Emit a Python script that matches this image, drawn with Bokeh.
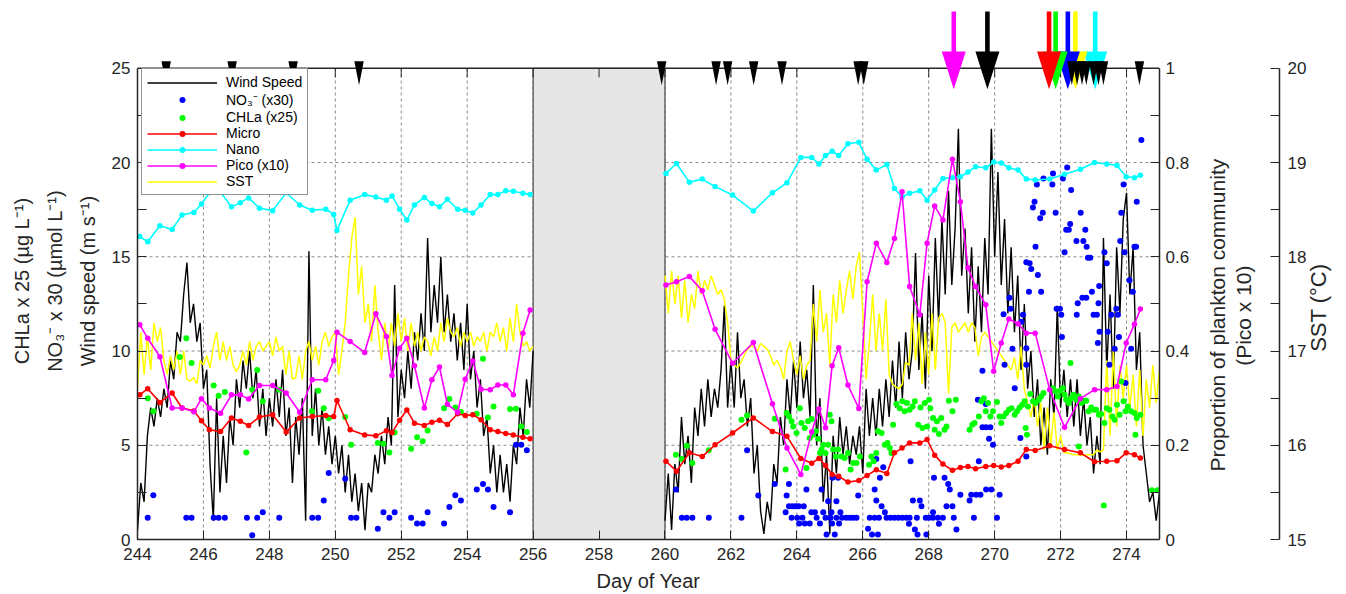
import numpy as np
from bokeh.plotting import figure
from bokeh.models import (Range1d, LinearAxis, FixedTicker, NumeralTickFormatter,
                          Legend, LegendItem)
from bokeh.embed import file_html
from bokeh.resources import INLINE

FONT = "Liberation Sans"
INK = "#262626"

# ---------------- axes / ticks ----------------
day_lim = [244, 275]
day_ticks = list(range(244, 275, 2))
left_ticks = [0, 5, 10, 15, 20, 25]
left_minor = [2.5, 7.5, 12.5, 17.5, 22.5]
prop_ticks = [0, 0.2, 0.4, 0.6, 0.8, 1.0]
prop_minor = [0.1, 0.3, 0.5, 0.7, 0.9]
sst_ticks = [15, 16, 17, 18, 19, 20]
sst_minor = [15.5, 16.5, 17.5, 18.5, 19.5]
left_top = 25
gap_days = [256, 260]

# ---------------- wind speed (m/s), sampled every 0.1 day ----------------
wind_t0_a = 244.0
wind_a = [0.5, 3.0, 2.0, 5.5, 7.0, 6.0, 7.5, 6.5, 8.0, 7.0,
          9.5, 8.5, 11.0, 10.5, 13.0, 14.7, 11.5, 12.5, 10.5, 11.5,
          8.0, 9.0, 4.0, 1.0, 7.5, 2.5, 5.5, 3.0, 6.5, 5.0,
          8.5, 7.0, 9.5, 8.0, 10.0, 7.5, 9.0, 6.0, 8.0, 5.5,
          7.5, 6.0, 8.5, 6.5, 9.0, 5.5, 7.0, 3.0, 6.5, 4.5,
          7.5, 1.0, 15.3, 5.5, 8.0, 5.0, 7.0, 4.5, 6.0, 4.0,
          5.5, 3.5, 5.0, 2.5, 4.5, 2.0, 3.5, 1.5, 3.0, 0.5,
          3.0, 2.5, 4.5, 3.5, 5.5, 4.0, 6.5, 5.0, 13.5, 6.5,
          9.0, 7.5, 10.0, 8.0, 11.0, 9.5, 12.0, 10.0, 16.0, 11.0,
          13.5, 11.5, 15.0, 11.0, 13.0, 10.5, 12.0, 9.5, 11.5, 9.0,
          12.5, 8.5, 10.0, 7.0, 8.5, 5.5, 6.5, 3.5, 5.0, 2.5,
          4.5, 2.5, 4.0, 2.0, 5.0, 4.0, 7.0, 5.5, 8.5, 7.0,
          10.0]
wind_t0_b = 260.0
wind_b = [1.0, 3.5, 0.5, 4.0, 2.5, 6.5, 4.0, 5.5, 3.0, 7.0,
          5.5, 8.0, 6.0, 8.5, 6.5, 8.0, 7.0, 9.0, 12.4, 7.0,
          9.5, 7.0, 11.0, 7.5, 8.5, 6.0, 7.5, 3.5, 5.0, 1.5,
          0.3, 2.0, 1.0, 4.0, 3.0, 6.5, 5.0, 8.5, 6.5, 9.5,
          7.0, 10.5, 7.5, 9.0, 6.5, 13.5, 5.0, 7.5, 2.0, 4.5,
          0.3, 5.5, 3.5, 6.5, 4.5, 6.0, 4.0, 5.5, 4.5, 6.0,
          3.5, 8.0, 5.5, 7.5, 5.5, 8.0, 6.0, 8.5, 6.5, 9.5,
          7.0, 10.5, 7.5, 11.0, 8.5, 10.0, 15.2, 9.0, 12.0, 8.0,
          14.0, 10.0, 16.0, 11.5, 17.0, 13.0, 18.5, 13.5, 16.5, 21.8,
          14.0, 16.5, 12.0, 15.5, 10.5, 14.5, 11.0, 16.0, 13.0, 21.8,
          15.0, 19.5, 13.5, 17.0, 12.0, 15.5, 11.0, 14.0, 9.0, 12.5,
          8.0, 10.0, 6.5, 8.5, 5.0, 7.0, 4.5, 8.5, 6.5, 12.4,
          7.0, 9.0, 6.5, 8.5, 6.0, 8.5, 5.5, 7.5, 5.0, 6.5,
          3.5, 5.5, 4.0, 16.0, 9.0, 13.0, 8.0, 15.5, 12.0, 17.0,
          18.4, 13.0, 15.5, 9.0, 11.0, 5.0, 3.5, 2.0, 2.5, 1.0,
          2.5]

# ---------------- SST (deg C), sampled every 0.1 day ----------------
sst_t0_a = 244.0
sst_a = [16.6, 17.2, 16.75, 17.15, 16.8, 17.3, 17.1, 17.25, 16.9, 16.75,
         16.95, 16.8, 17.0, 16.75, 17.0, 16.7, 16.68, 16.72, 16.65, 16.9,
         16.85, 16.95, 16.82, 17.05, 17.2, 16.9, 17.1, 16.9, 17.05, 16.85,
         16.78, 16.85, 17.0, 16.85, 17.1, 16.9, 17.05, 17.1, 17.0, 17.05,
         17.1, 16.95, 17.15, 17.0, 17.05, 16.75, 17.0, 16.7, 16.72, 16.95,
         16.7, 17.0, 17.1, 16.9, 17.05, 16.85, 17.1, 17.2, 17.05, 17.15,
         17.2, 16.75, 17.0, 17.3, 17.8, 18.2, 18.42, 17.6, 17.9, 17.3,
         17.5, 17.1, 17.7, 17.2, 16.9, 17.3, 17.0, 17.3, 17.05, 17.4,
         17.1, 17.35, 17.0, 17.3, 17.05, 17.2, 17.0, 17.15, 17.1, 16.95,
         17.15, 17.0, 17.3, 17.1, 17.35, 17.2, 17.15, 17.25, 17.05, 17.2,
         17.1, 17.2, 17.05, 17.15, 17.1, 17.2, 17.0, 17.2, 17.15, 17.3,
         17.1, 17.25, 17.0, 17.35, 17.1, 17.5, 17.2, 17.05, 17.1, 17.0,
         17.05]
sst_t0_b = 260.0
sst_b = [17.8, 17.4, 17.85, 17.5, 17.8, 17.35, 17.75, 17.3, 17.6, 17.45,
         17.85, 17.6, 17.75, 17.65, 17.8, 17.7, 17.6, 17.65, 17.55, 17.3,
         16.9, 16.85, 16.82, 16.88, 16.95, 17.02, 17.05, 17.05, 17.0, 17.08,
         17.05, 17.02, 16.95, 16.85, 16.9, 16.83, 16.7, 17.0, 17.1, 16.9,
         16.75, 16.95, 16.7, 16.85, 16.9, 17.5, 17.1, 17.65, 17.2, 17.4,
         16.85, 17.6, 17.3, 17.75, 17.4, 17.65, 17.85, 17.55, 17.9, 18.05,
         17.4, 16.7, 17.1, 17.6, 17.0, 17.4, 17.0, 17.55, 16.75, 16.65,
         16.62, 16.6, 16.65, 16.88, 16.85, 17.4, 16.9, 17.3, 16.65, 17.2,
         16.75, 17.4, 16.8, 17.35, 17.4, 17.3, 16.55, 17.25, 17.3, 17.2,
         17.25, 17.3, 17.2, 17.3, 17.25, 16.95, 17.15, 17.2, 17.15, 17.1,
         17.05, 17.0, 16.95, 16.9, 16.85, 16.8, 16.93, 16.7, 17.05, 16.6,
         16.45, 16.3, 16.5, 16.2, 16.45, 15.95, 16.4, 16.0, 16.35, 15.95,
         16.1, 15.92, 15.92, 15.91, 15.9, 15.9, 15.9, 15.89, 15.9, 15.9,
         15.9, 15.95, 15.93, 15.95, 16.9, 16.1, 17.0, 16.2, 16.85, 16.5,
         16.85, 16.4, 16.75, 16.2, 16.8, 16.1, 16.7, 16.4, 16.85, 16.45,
         16.8]

# ---------------- plankton community proportions ----------------
plank_day_a = [244.07, 244.31, 244.68, 245.05, 245.35, 245.71, 245.94, 246.18, 246.52, 246.85,
               247.12, 247.37, 247.70, 248.10, 248.51, 248.92, 249.30, 249.71, 249.95, 250.05,
               250.45, 250.89, 251.23, 251.55, 251.72, 251.95, 252.17, 252.40, 252.70, 252.93,
               253.16, 253.40, 253.71, 253.94, 254.17, 254.42, 254.70, 254.93, 255.17, 255.40,
               255.69, 255.91]
micro_a = [0.307, 0.320, 0.291, 0.311, 0.279, 0.273, 0.252, 0.233, 0.229, 0.258,
           0.251, 0.242, 0.260, 0.265, 0.228, 0.258, 0.261, 0.263, 0.261, 0.295,
           0.233, 0.222, 0.220, 0.231, 0.227, 0.253, 0.275, 0.247, 0.242, 0.249,
           0.253, 0.244, 0.267, 0.263, 0.265, 0.254, 0.233, 0.229, 0.225, 0.222,
           0.217, 0.214]
nano_a = [0.643, 0.632, 0.666, 0.658, 0.689, 0.694, 0.712, 0.736, 0.737, 0.706,
          0.715, 0.725, 0.703, 0.698, 0.736, 0.710, 0.699, 0.701, 0.690, 0.656,
          0.720, 0.732, 0.727, 0.720, 0.729, 0.701, 0.678, 0.710, 0.726, 0.713,
          0.706, 0.722, 0.701, 0.699, 0.693, 0.710, 0.732, 0.732, 0.740, 0.739,
          0.735, 0.732]
pico_a = [0.456, 0.427, 0.388, 0.279, 0.279, 0.271, 0.299, 0.279, 0.268, 0.307,
          0.307, 0.298, 0.327, 0.327, 0.311, 0.270, 0.339, 0.339, 0.380, 0.440,
          0.420, 0.397, 0.479, 0.431, 0.348, 0.406, 0.427, 0.369, 0.279, 0.339,
          0.366, 0.287, 0.270, 0.340, 0.379, 0.319, 0.318, 0.328, 0.328, 0.307,
          0.438, 0.487]

plank_day_b = [260.03, 260.35, 260.74, 261.13, 261.52, 262.05, 262.68, 263.26, 263.70, 264.12,
               264.45, 264.67, 264.87, 265.07, 265.27, 265.55, 265.88, 266.13, 266.41, 266.73,
               266.96, 267.19, 267.42, 267.73, 267.95, 268.18, 268.43, 268.72, 268.96, 269.19,
               269.42, 269.73, 269.97, 270.20, 270.43, 270.71, 270.96, 271.23, 271.67, 272.12,
               272.60, 273.03, 273.40, 273.71, 273.99, 274.24, 274.42]
micro_b = [0.166, 0.145, 0.184, 0.176, 0.201, 0.226, 0.258, 0.229, 0.219, 0.172,
           0.162, 0.172, 0.157, 0.138, 0.134, 0.122, 0.125, 0.136, 0.148, 0.140,
           0.184, 0.194, 0.205, 0.205, 0.212, 0.179, 0.160, 0.147, 0.153, 0.155,
           0.150, 0.155, 0.157, 0.154, 0.157, 0.166, 0.191, 0.189, 0.199, 0.191,
           0.184, 0.165, 0.166, 0.167, 0.184, 0.180, 0.173]
nano_b = [0.777, 0.798, 0.758, 0.765, 0.749, 0.731, 0.697, 0.736, 0.757, 0.811,
          0.811, 0.797, 0.815, 0.824, 0.815, 0.840, 0.843, 0.807, 0.784, 0.796,
          0.745, 0.727, 0.735, 0.740, 0.720, 0.742, 0.766, 0.768, 0.770, 0.780,
          0.791, 0.789, 0.801, 0.799, 0.789, 0.784, 0.765, 0.763, 0.765, 0.775,
          0.786, 0.800, 0.797, 0.794, 0.770, 0.768, 0.773]
pico_b = [0.540, 0.547, 0.558, 0.528, 0.446, 0.374, 0.418, 0.288, 0.194, 0.138,
          0.228, 0.277, 0.237, 0.369, 0.407, 0.328, 0.278, 0.547, 0.629, 0.588,
          0.639, 0.738, 0.537, 0.477, 0.629, 0.708, 0.678, 0.807, 0.717, 0.577,
          0.537, 0.498, 0.357, 0.417, 0.468, 0.458, 0.438, 0.438, 0.318, 0.238,
          0.299, 0.318, 0.318, 0.325, 0.417, 0.457, 0.489]

# ---------------- NO3 (x30) ----------------
no3_day = [244.31, 244.48, 245.48, 245.64, 246.31, 246.46, 246.65, 247.32, 247.48, 247.63,
           247.80, 248.30, 249.30, 249.48, 249.65, 249.80, 250.30, 250.48, 250.64, 251.29,
           251.46, 251.64, 251.80, 252.30, 252.48, 252.65, 252.80, 253.30, 253.46, 253.64,
           253.81, 254.29, 254.48, 254.63, 254.80, 255.30, 255.48, 255.64, 255.81,
           260.33, 260.51, 260.66, 260.83, 261.33, 262.32, 262.49, 262.83, 263.33, 263.66,
           263.69, 263.76, 263.76, 263.84, 263.86, 263.96, 264.01, 264.06, 264.07, 264.17,
           264.21, 264.24, 264.29, 264.39, 264.44, 264.55, 264.60, 264.70, 264.75, 264.80,
           264.87, 264.90, 264.95, 265.02, 265.05, 265.07, 265.08, 265.15, 265.20, 265.20,
           265.25, 265.28, 265.32, 265.37, 265.50, 265.61, 265.71, 265.81, 265.86, 266.16,
           266.21, 266.28, 266.36, 266.36, 266.41, 266.41, 266.46, 266.49, 266.52, 266.57,
           266.62, 266.67, 266.72, 266.84, 266.96, 267.08, 267.20, 267.32, 267.40, 267.42,
           267.45, 267.52, 267.58, 267.64, 267.66, 267.73, 267.78, 267.91, 267.93, 268.01,
           268.13, 268.13, 268.16, 268.28, 268.31, 268.43, 268.48, 268.54, 268.59, 268.64,
           268.72, 268.76, 268.84, 268.96, 269.24, 269.29, 269.37, 269.44, 269.49, 269.52,
           269.57, 269.63, 269.63, 269.73, 269.74, 269.74, 269.83, 269.87, 269.90, 269.95,
           270.07, 270.15, 270.27, 270.30, 270.45, 270.48, 270.54, 270.61, 270.78, 270.81,
           270.86, 270.96, 270.96, 270.96, 270.96, 271.04, 271.06, 271.11, 271.16, 271.21,
           271.24, 271.28, 271.31, 271.38, 271.41, 271.46, 271.48, 271.75, 271.77, 271.85,
           271.88, 271.98, 272.02, 272.04, 272.07, 272.12, 272.17, 272.20, 272.25, 272.29,
           272.32, 272.48, 272.49, 272.52, 272.61, 272.66, 272.69, 272.75, 272.78, 272.79,
           272.83, 272.90, 272.95, 273.00, 273.10, 273.13, 273.15, 273.17, 273.18, 273.33,
           273.40, 273.43, 273.48, 273.54, 273.64, 273.69, 273.74, 273.77, 273.81, 273.84,
           273.91, 273.94, 273.97, 274.09, 274.14, 274.19, 274.24, 274.29, 274.31, 274.45]
no3_val = [1.15, 2.35, 1.15, 1.15, 1.15, 1.15, 1.15, 1.15, 0.23, 1.15,
           1.45, 1.15, 1.15, 1.15, 2.07, 3.53, 3.23, 1.15, 1.15, 0.57,
           1.45, 1.15, 1.45, 1.15, 0.85, 0.85, 1.45, 0.85, 1.73, 2.35,
           2.07, 2.65, 2.95, 2.65, 1.73, 1.45, 5.03, 5.03, 4.73,
           2.65, 1.15, 1.15, 1.15, 1.15, 1.15, 4.73, 2.33, 2.95, 1.45,
           2.33, 2.95, 1.76, 1.15, 1.76, 1.76, 1.15, 1.76, 0.85, 1.15,
           1.76, 0.85, 2.65, 0.85, 1.45, 1.45, 1.15, 0.85, 2.65, 1.45,
           1.15, 0.26, 2.03, 1.15, 1.45, 0.85, 3.27, 0.26, 1.15, 2.03,
           3.27, 0.85, 1.45, 1.15, 1.15, 1.15, 1.15, 1.15, 2.33, 0.57,
           1.15, 0.26, 1.15, 2.65, 2.07, 4.27, 0.26, 1.15, 3.27, 1.76,
           3.83, 1.45, 1.15, 1.15, 1.15, 1.15, 1.15, 1.15, 0.83, 1.15,
           4.15, 2.07, 0.53, 1.15, 0.26, 2.07, 1.76, 1.15, 0.26, 1.15,
           1.15, 1.45, 3.27, 1.15, 0.83, 1.15, 3.27, 1.76, 2.95, 2.65,
           1.76, 1.15, 0.53, 2.38, 2.07, 2.38, 1.15, 2.38, 7.42, 4.15,
           2.38, 8.95, 5.95, 7.19, 5.95, 2.65, 5.35, 5.95, 2.65, 5.03,
           1.15, 2.38, 11.95, 9.27, 12.83, 12.24, 10.12, 8.03, 5.39, 11.56,
           11.92, 14.71, 10.15, 9.27, 4.41, 13.15, 14.66, 14.35, 17.62, 17.92,
           15.54, 18.84, 14.04, 17.04, 13.15, 17.34, 19.16, 18.84, 19.42, 17.34,
           12.24, 12.24, 11.92, 10.74, 19.16, 15.24, 16.44, 19.74, 16.44, 16.74,
           18.54, 15.84, 11.92, 12.54, 17.34, 12.83, 15.84, 16.44, 12.83, 15.54,
           14.95, 14.95, 13.15, 11.92, 11.92, 10.42, 12.54, 13.45, 11.03, 15.24,
           14.66, 11.03, 9.27, 11.92, 10.12, 12.24, 11.92, 10.74, 15.84, 17.34,
           18.84, 15.24, 8.30, 13.75, 10.12, 13.15, 15.54, 15.54, 17.92, 21.2]

# ---------------- CHLa (x25) ----------------
chl_day = [244.31, 244.48, 245.28, 245.48, 245.64, 246.31, 246.46, 246.65, 247.30, 247.48,
           247.63, 247.80, 248.30, 249.29, 249.48, 249.65, 249.80, 250.30, 250.48, 251.29,
           251.46, 251.64, 251.80, 252.30, 252.48, 252.65, 252.80, 253.30, 253.46, 253.64,
           253.81, 254.29, 254.48, 254.63, 254.80, 255.30, 255.48, 255.64, 255.81,
           260.33, 260.51, 260.66, 260.83, 261.33, 262.32, 262.49, 263.33, 263.66, 263.69,
           263.76, 263.84, 263.89, 263.99, 264.09, 264.14, 264.24, 264.29, 264.34, 264.39,
           264.45, 264.49, 264.58, 264.65, 264.70, 264.75, 264.80, 264.87, 264.95, 265.00,
           265.05, 265.10, 265.18, 265.25, 265.35, 265.45, 265.55, 265.63, 265.71, 265.81,
           265.91, 266.19, 266.26, 266.33, 266.41, 266.46, 266.57, 266.67, 266.75, 266.82,
           266.87, 266.92, 267.02, 267.12, 267.20, 267.27, 267.34, 267.42, 267.51, 267.58,
           267.68, 267.75, 267.81, 267.88, 267.95, 268.01, 268.05, 268.13, 268.18, 268.25,
           268.31, 268.38, 268.48, 268.54, 268.61, 268.72, 268.82, 269.24, 269.32, 269.39,
           269.52, 269.60, 269.67, 269.73, 269.80, 269.87, 269.95, 270.07, 270.15, 270.20,
           270.27, 270.35, 270.43, 270.51, 270.61, 270.68, 270.76, 270.84, 270.91, 270.94,
           270.98, 271.01, 271.08, 271.16, 271.24, 271.34, 271.41, 271.48, 271.77, 271.85,
           271.92, 271.99, 272.07, 272.12, 272.17, 272.25, 272.30, 272.32, 272.39, 272.48,
           272.55, 272.55, 272.63, 272.70, 272.78, 272.85, 272.93, 273.00, 273.08, 273.16,
           273.23, 273.31, 273.33, 273.40, 273.48, 273.57, 273.64, 273.71, 273.79, 273.84,
           273.91, 273.97, 274.04, 274.14, 274.24, 274.27, 274.31, 274.42, 274.77, 274.94]
chl_val = [7.50, 6.80, 9.68, 10.68, 9.36, 8.17, 7.63, 7.82, 4.62, 7.94,
           9.00, 7.33, 7.94, 6.80, 7.89, 6.97, 6.44, 6.50, 5.03, 5.12,
           5.08, 4.62, 5.68, 4.82, 5.42, 5.21, 5.79, 6.97, 7.45, 7.01,
           6.76, 6.67, 9.59, 6.48, 7.06, 6.92, 6.94, 6.00, 5.70,
           4.50, 4.27, 4.98, 4.06, 4.73, 6.36, 6.58, 6.41, 3.71, 6.71,
           6.53, 6.27, 6.00, 5.65, 6.97, 6.18, 5.92, 3.80, 6.27, 5.39,
           6.39, 5.56, 5.74, 5.35, 4.59, 4.77, 5.03, 4.59, 5.03, 6.62,
           6.27, 4.77, 4.41, 4.77, 4.41, 4.33, 4.59, 3.71, 4.06, 4.06,
           4.41, 3.97, 4.41, 4.15, 4.59, 5.74, 5.65, 5.03, 5.12, 4.86,
           4.59, 6.09, 7.19, 6.97, 7.33, 6.80, 7.24, 6.89, 7.06, 7.33,
           6.09, 7.01, 5.92, 7.24, 6.00, 7.42, 6.97, 6.45, 5.83, 6.27,
           5.60, 6.45, 5.83, 6.00, 7.36, 6.80, 7.42, 5.83, 6.09, 6.18,
           6.53, 7.33, 7.50, 6.80, 7.24, 6.53, 6.80, 7.29, 6.53, 6.18,
           6.53, 6.71, 6.89, 6.97, 6.62, 6.80, 7.01, 7.15, 7.33, 5.92,
           5.56, 7.06, 7.72, 7.33, 7.24, 7.42, 7.59, 7.77, 8.03, 7.86,
           7.59, 7.89, 8.03, 7.68, 7.42, 7.24, 9.36, 7.50, 7.68, 7.42,
           7.59, 4.94, 7.24, 7.33, 7.36, 6.80, 7.01, 6.89, 6.89, 6.62,
           6.66, 1.80, 6.18, 6.97, 6.89, 6.53, 6.36, 7.15, 6.62, 8.38,
           7.33, 6.80, 7.06, 6.80, 6.71, 5.56, 6.45, 6.62, 2.61, 2.61]

# ---------------- event markers above the plot ----------------
event_days = [244.87, 246.87, 248.72, 250.72, 259.90, 261.55, 261.90, 262.69, 263.55,
              265.86, 266.03, 272.34, 272.50, 272.65, 272.78, 273.00, 273.15, 273.30, 274.39]
arrow_days = [268.76, 269.78, 271.65, 271.85, 272.22, 272.45, 273.05]
arrow_colors = ["#ff00ff", "#000000", "#ff0000", "#00ff00", "#0000ff", "#ffff00", "#00ffff"]

# ---------------- texts ----------------
left_label_lines = ["CHLa x 25 (\u00b5g L\u207b\u00b9)",
                    "NO\u2083\u207b x 30 (\u00b5mol L\u207b\u00b9)",
                    "Wind speed (m s\u207b\u00b9)"]
right_label_lines = ["Proportion of plankton community", "(Pico x 10)"]
sst_label = "SST (\u00b0C)"
x_label = "Day of Year"

# ================= figure =================
W, H = 1346, 594
BL, BR, BT, BB = 137, 186, 0, 54
YTOP = 28.6
frame_w = W - BL - BR
frame_h = H - BT - BB
px_day = frame_w / (day_lim[1] - day_lim[0])
px_unit = frame_h / YTOP
px_prop = px_unit * left_top
NB = "\u00a0"   # trailing no-break spaces nudge the rotated left title along the axis

p = figure(width=W, height=H, output_backend="svg", toolbar_location=None,
           x_range=Range1d(day_lim[0], day_lim[1]), y_range=Range1d(0, YTOP),
           min_border_left=BL, min_border_right=BR, min_border_top=BT, min_border_bottom=BB,
           outline_line_color=None, background_fill_color="white")
p.extra_y_ranges = {"prop": Range1d(0, YTOP / left_top),
                    "sst": Range1d(sst_ticks[0], sst_ticks[0] + YTOP * (sst_ticks[-1] - sst_ticks[0]) / left_top)}
p.xgrid.visible = False
p.ygrid.visible = False

def style_axis(ax, standoff):
    ax.axis_line_color = INK
    ax.axis_line_width = 1.5
    ax.major_tick_line_color = INK
    ax.minor_tick_line_color = INK
    ax.major_tick_in = 9
    ax.major_tick_out = 0
    ax.minor_tick_in = 9
    ax.minor_tick_out = 0
    ax.major_label_text_font = FONT
    ax.major_label_text_font_size = "17px"
    ax.major_label_text_color = INK
    ax.major_label_standoff = standoff
    ax.axis_label_text_font = FONT
    ax.axis_label_text_font_style = "normal"
    ax.axis_label_text_color = INK
    ax.axis_label_text_font_size = "20px"

def title_axis(text, start_px, standoff, size):
    """An axis with no line/ticks whose single rotated tick label carries a title.
    start_px: canvas y (px) where the upward-reading text begins."""
    tick = round((frame_h - start_px) / px_prop, 4)
    ax = LinearAxis(y_range_name="prop", ticker=FixedTicker(ticks=[tick]),
                    major_label_overrides={tick: text})
    style_axis(ax, standoff)
    ax.axis_line_color = None
    ax.major_tick_line_color = None
    ax.minor_tick_line_color = None
    ax.major_tick_in = 0
    ax.minor_tick_in = 0
    ax.major_label_text_font_size = size
    ax.major_label_orientation = np.pi / 2
    return ax

xa = p.xaxis[0]
xa.ticker = FixedTicker(ticks=day_ticks)
style_axis(xa, 8)
xa.axis_label = x_label
xa.axis_label_standoff = 7
xa.axis_label_text_line_height = 1.0

ya = p.yaxis[0]
ya.ticker = FixedTicker(ticks=left_ticks, minor_ticks=left_minor)
ya.bounds = (left_ticks[0], left_ticks[-1])
style_axis(ya, 7)

# carrier axis for the three-line left title (no line, no ticks)
ya_title = LinearAxis(ticker=FixedTicker(ticks=[]))
style_axis(ya_title, 0)
ya_title.axis_line_color = None
ya_title.major_tick_line_color = None
ya_title.minor_tick_line_color = None
ya_title.axis_label = "\n".join(t + NB * 4 for t in left_label_lines)
ya_title.axis_label_standoff = 10
ya_title.axis_label_text_line_height = 1.5
p.add_layout(ya_title, "left")

ax_prop = LinearAxis(y_range_name="prop", ticker=FixedTicker(ticks=prop_ticks, minor_ticks=prop_minor),
                     formatter=NumeralTickFormatter(format="0.[0]"), bounds=(prop_ticks[0], prop_ticks[-1]))
style_axis(ax_prop, 6)
p.add_layout(ax_prop, "right")

# right-hand titles (read bottom to top)
p.add_layout(title_axis(right_label_lines[0], 472, 25, "21px"), "right")
t2 = title_axis(right_label_lines[1], 366, 0, "21px")
t2.axis_label = " "                      # small invisible spacer before the SST axis
t2.axis_label_text_font_size = "2px"
t2.axis_label_standoff = 5
p.add_layout(t2, "right")

ax_sst = LinearAxis(y_range_name="sst", ticker=FixedTicker(ticks=sst_ticks, minor_ticks=sst_minor),
                    bounds=(sst_ticks[0], sst_ticks[-1]))
style_axis(ax_sst, 8)
p.add_layout(ax_sst, "right")
p.add_layout(title_axis(sst_label, 352, 9, "22px"), "right")

# grid lines (dashed)
grid_x = day_ticks[1:]
grid_y = left_ticks[1:-1]
p.segment(x0=grid_x, y0=[left_ticks[0]] * len(grid_x), x1=grid_x, y1=[left_top] * len(grid_x),
          line_color="#8a8a8a", line_dash="3 3", line_width=1)
p.segment(x0=[day_lim[0]] * len(grid_y), y0=grid_y, x1=[day_lim[1]] * len(grid_y), y1=grid_y,
          line_color="#8a8a8a", line_dash="3 3", line_width=1)

# gap between cruise legs
p.quad(left=[gap_days[0]], right=[gap_days[1]], bottom=[left_ticks[0]], top=[left_top],
       fill_color="#e6e6e6", line_color=INK, line_width=1)

# wind
wx_a = [round(wind_t0_a + 0.1 * i, 2) for i in range(len(wind_a))]
wx_b = [round(wind_t0_b + 0.1 * i, 2) for i in range(len(wind_b))]
r_wind = p.line(wx_a, wind_a, line_color="black", line_width=1.4)
p.line(wx_b, wind_b, line_color="black", line_width=1.4)

# SST
sx_a = [round(sst_t0_a + 0.1 * i, 2) for i in range(len(sst_a))]
sx_b = [round(sst_t0_b + 0.1 * i, 2) for i in range(len(sst_b))]
r_sst = p.line(sx_a, sst_a, y_range_name="sst", line_color="#ffff00", line_width=1.5)
p.line(sx_b, sst_b, y_range_name="sst", line_color="#ffff00", line_width=1.5)

# nutrients / chlorophyll
r_no3 = p.scatter(no3_day, no3_val, size=6, fill_color="#0000ff", line_color=None)
r_chl = p.scatter(chl_day, chl_val, size=6, fill_color="#00ff00", line_color=None)

# plankton groups
def group(days_list, vals_list, color):
    rl = rd = None
    for d, v in zip(days_list, vals_list):
        l = p.line(d, v, y_range_name="prop", line_color=color, line_width=1.6)
        s = p.scatter(d, v, y_range_name="prop", size=5.5, fill_color=color, line_color=None)
        if rl is None:
            rl, rd = l, s
    return rl, rd

r_micro = group([plank_day_a, plank_day_b], [micro_a, micro_b], "#ff0000")
r_nano = group([plank_day_a, plank_day_b], [nano_a, nano_b], "#00ffff")
r_pico = group([plank_day_a, plank_day_b], [pico_a, pico_b], "#ff00ff")

# top frame border and its ticks
p.line(day_lim, [left_top, left_top], line_color=INK, line_width=1.5)
p.segment(x0=day_ticks, y0=[left_top] * len(day_ticks), x1=day_ticks,
          y1=[left_top - 9 / px_unit] * len(day_ticks), line_color=INK, line_width=1)

# arrows (drawn cyan first, magenta last)
sw, hw = 2.3 / px_day, 12 / px_day
a_top, a_neck, a_tip = left_top + 57 / px_unit, left_top + 17 / px_unit, left_top - 21 / px_unit
axs, ays, acs = [], [], []
for d, c in list(zip(arrow_days, arrow_colors))[::-1]:
    axs.append([d - sw, d + sw, d + sw, d + hw, d, d - hw, d - sw])
    ays.append([a_top, a_top, a_neck, a_neck, a_tip, a_neck, a_neck])
    acs.append(c)
p.patches(axs, ays, fill_color=acs, line_color=None)

# black event triangles
tw = 4.7 / px_day
t_top, t_tip = left_top + 7 / px_unit, left_top - 17 / px_unit
p.patches([[d - tw, d + tw, d] for d in event_days], [[t_top, t_top, t_tip] for _ in event_days],
          fill_color="black", line_color=None)

# legend
items = [LegendItem(label="Wind Speed", renderers=[r_wind]),
         LegendItem(label="NO\u2083\u207b (x30)", renderers=[r_no3]),
         LegendItem(label="CHLa (x25)", renderers=[r_chl]),
         LegendItem(label="Micro", renderers=list(r_micro)),
         LegendItem(label="Nano", renderers=list(r_nano)),
         LegendItem(label="Pico (x10)", renderers=list(r_pico)),
         LegendItem(label="SST", renderers=[r_sst])]
legend = Legend(items=items, location=(4, 344), padding=5, spacing=0, margin=0,
                glyph_height=15, glyph_width=70, label_height=15, label_standoff=9,
                label_text_font=FONT, label_text_font_size="14px", label_text_color="black",
                label_text_line_height=1.0,
                border_line_color=INK, border_line_width=1.5, background_fill_alpha=1.0)
p.add_layout(legend)

open("out.html", "w").write(file_html(p, INLINE))
